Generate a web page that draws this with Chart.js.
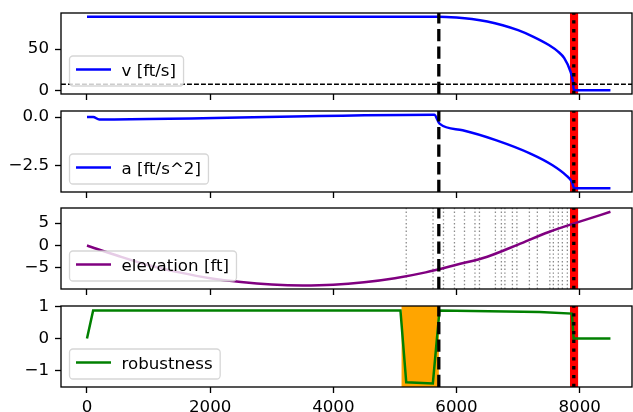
<!DOCTYPE html>
<html>
<head>
<meta charset="utf-8">
<title>Braking run</title>
<script src="https://cdn.jsdelivr.net/npm/chart.js@4.4.1/dist/chart.umd.min.js"></script>
<style>
    body { margin: 0; background: #ffffff; }
    #wrap { position: relative; width: 633px; height: 412px; overflow: hidden; background: #ffffff; }
    #wrap canvas { position: absolute; left: 0; }
</style>
</head>
<body>
<div id="wrap">
    <canvas id="velocityChart"></canvas>
    <canvas id="accelChart"></canvas>
    <canvas id="elevationChart"></canvas>
    <canvas id="robustnessChart"></canvas>
</div>
<script>
// shared x axis: distance [ft]
const X_TICKS = [0, 2000, 4000, 6000, 8000];

// v [ft/s]
const velocityDist = [0, 5713, 6000, 6250, 6500, 6750, 7000, 7250, 7500, 7650, 7750, 7850, 7890, 7905, 8500];
const velocityValues = [89.4, 89.3, 88.3, 86.5, 83.5, 79.0, 73.0, 65.0, 55.0, 47.0, 39.0, 23.0, 11.0, 0.0, 0.0];

// a [ft/s^2]
const accelDist = [0, 100, 200, 5640, 5724, 6100, 6650, 7200, 7560, 7780, 7875, 7913, 8500];
const accelValues = [0, 0, -0.13, 0.12, -0.34, -0.68, -1.2, -1.88, -2.48, -3.0, -3.34, -3.67, -3.67];

// elevation [ft]
const elevationDist = [0, 500, 1000, 1500, 2000, 2500, 3000, 3500, 4000, 4500, 5000, 5500, 6000, 6500, 7000, 7500, 8000, 8500];
const elevationValues = [0, -2.3, -4.4, -6.0, -7.3, -8.15, -8.7, -8.9, -8.75, -8.2, -7.3, -6.0, -4.3, -2.5, 0.2, 3.0, 5.3, 7.5];

// robustness
const robustnessDist = [0, 100, 5090, 5184, 5616, 5724, 7346, 7875, 7902, 8500];
const robustnessValues = [0, 0.88, 0.88, -1.38, -1.42, 0.88, 0.83, 0.78, 0, 0];

// event markers
const brakeStartX = [5713];                 // black dashed, all panels
const stopSpan = [7843, 7975];              // red band, all panels
const stopX = [7905];                       // black dotted, all panels
const violationSpan = [5108, 5713];         // orange band, robustness only
const gradeChangeX = [5184, 5619, 5789, 5967, 6130, 6300, 6373, 6632, 6729, 6786,
                      6908, 6981, 7184, 7313, 7516, 7573, 7654, 7719, 7800];
const speedLimitY = [7.33];                 // black dashed, velocity only

const FONT = { family: 'DejaVu Sans', size: 16.67 };
const PANEL_H = 81;
const PAD_TOP = 18;   // room for the y tick label overhang

function minusSign(v) {
    return String(v).replace('-', '\u2212');
}

function toPoints(xs, ys) {
    return xs.map((x, i) => ({ x: x, y: ys[i] }));
}

function vLine(chart, value, color, width, dash) {
    const ctx = chart.ctx;
    const area = chart.chartArea;
    const px = chart.scales.x.getPixelForValue(value);
    ctx.save();
    ctx.beginPath();
    ctx.rect(area.left, area.top, area.right - area.left, area.bottom - area.top);
    ctx.clip();
    ctx.beginPath();
    ctx.strokeStyle = color;
    ctx.lineWidth = width;
    ctx.setLineDash(dash);
    ctx.moveTo(px, area.bottom);
    ctx.lineTo(px, area.top);
    ctx.stroke();
    ctx.restore();
}

function vSpan(chart, span, color) {
    const ctx = chart.ctx;
    const area = chart.chartArea;
    const x0 = chart.scales.x.getPixelForValue(span[0]);
    const x1 = chart.scales.x.getPixelForValue(span[1]);
    ctx.save();
    ctx.fillStyle = color;
    ctx.fillRect(x0, area.top, x1 - x0, area.bottom - area.top);
    ctx.restore();
}

function drawLegend(chart, label, color) {
    const ctx = chart.ctx;
    const area = chart.chartArea;
    ctx.save();
    ctx.font = FONT.size + 'px "DejaVu Sans"';
    const textW = ctx.measureText(label).width;
    const w = 52 + textW + 7.5;
    const h = 30;
    const x = area.left + 8.5;
    const y = area.bottom - 8 - h;
    ctx.beginPath();
    ctx.roundRect(x, y, w, h, 3.5);
    ctx.fillStyle = 'rgba(255,255,255,0.8)';
    ctx.fill();
    ctx.lineWidth = 1.3;
    ctx.strokeStyle = 'rgba(204,204,204,0.8)';
    ctx.stroke();
    // line sample
    ctx.beginPath();
    ctx.strokeStyle = color;
    ctx.lineWidth = 2.5;
    ctx.moveTo(x + 6.5, y + h / 2 - 1.5);
    ctx.lineTo(x + 41.5, y + h / 2 - 1.5);
    ctx.stroke();
    ctx.fillStyle = '#000000';
    ctx.textBaseline = 'middle';
    ctx.fillText(label, x + 52, y + h / 2 + 0.5);
    ctx.restore();
}

function makePanel(id, top, bottomSpace, cfg) {
    const canvas = document.getElementById(id);
    canvas.width = 633;
    canvas.height = PAD_TOP + PANEL_H + bottomSpace;
    canvas.style.top = (top - PAD_TOP) + 'px';

    const markers = {
        id: 'markers_' + id,
        beforeDatasetsDraw(chart) {
            (cfg.spans || []).forEach(s => vSpan(chart, s.range, s.color));
            (cfg.thinDotted || []).forEach(v => vLine(chart, v, '#8a8a8a', 1.3, [1.4, 2.4]));
        },
        afterDatasetsDraw(chart) {
            const area = chart.chartArea;
            const ctx = chart.ctx;
            (cfg.hLines || []).forEach(v => {
                const py = chart.scales.y.getPixelForValue(v);
                ctx.save();
                ctx.beginPath();
                ctx.strokeStyle = '#000000';
                ctx.lineWidth = 1.33;
                ctx.setLineDash([4.9, 2.1]);
                ctx.moveTo(area.left, py);
                ctx.lineTo(area.right, py);
                ctx.stroke();
                ctx.restore();
            });
            brakeStartX.forEach(v => vLine(chart, v, '#000000', 3.3, [12.3, 5.3]));
            stopX.forEach(v => vLine(chart, v, '#000000', 3.3, [3.3, 5.5]));
        },
        afterDraw(chart) {
            const area = chart.chartArea;
            const ctx = chart.ctx;
            ctx.save();
            ctx.strokeStyle = '#000000';
            ctx.lineWidth = 1.33;
            ctx.strokeRect(area.left, area.top, area.right - area.left, area.bottom - area.top);
            ctx.restore();
            drawLegend(chart, cfg.label, cfg.color);
        }
    };

    return new Chart(canvas.getContext('2d'), {
        type: 'line',
        data: {
            datasets: [{
                label: cfg.label,
                data: toPoints(cfg.xs, cfg.ys),
                borderColor: cfg.color,
                borderWidth: 2.5,
                pointRadius: 0,
                fill: false,
                cubicInterpolationMode: cfg.smooth ? 'monotone' : 'default',
                tension: 0
            }]
        },
        options: {
            responsive: false,
            animation: false,
            devicePixelRatio: 1,
            events: [],
            layout: { padding: { top: PAD_TOP, left: 0, right: 1, bottom: 0 } },
            plugins: {
                legend: { display: false },
                tooltip: { enabled: false }
            },
            scales: {
                x: {
                    type: 'linear',
                    min: -422,
                    max: 8850,
                    afterBuildTicks: axis => { axis.ticks = X_TICKS.map(v => ({ value: v })); },
                    afterFit: axis => { axis.height = bottomSpace; },
                    border: { display: false },
                    grid: { drawOnChartArea: false, drawTicks: true, tickLength: 6, tickWidth: 1.33, tickColor: '#000000' },
                    ticks: {
                        display: cfg.showX,
                        padding: 5,
                        maxRotation: 0,
                        color: '#000000',
                        font: FONT,
                        callback: v => minusSign(v)
                    }
                },
                y: {
                    type: 'linear',
                    min: cfg.yMin,
                    max: cfg.yMax,
                    afterBuildTicks: axis => { axis.ticks = cfg.yTicks.map(v => ({ value: v })); },
                    afterFit: axis => { axis.width = 61; },
                    border: { display: false },
                    grid: { drawOnChartArea: false, drawTicks: true, tickLength: 6, tickWidth: 1.33, tickColor: '#000000' },
                    ticks: {
                        padding: 6,
                        color: '#000000',
                        font: FONT,
                        callback: cfg.fmt
                    }
                }
            }
        },
        plugins: [markers]
    });
}

const redBand = { range: stopSpan, color: '#ff0000' };

const velocityChartInstance = makePanel('velocityChart', 13, 18, {
    label: 'v [ft/s]', color: '#0000ff', xs: velocityDist, ys: velocityValues, smooth: true,
    yMin: -4.47, yMax: 93.87, yTicks: [0, 50], fmt: v => minusSign(v),
    spans: [redBand], hLines: speedLimitY, showX: false
});

const accelChartInstance = makePanel('accelChart', 111, 18, {
    label: 'a [ft/s^2]', color: '#0000ff', xs: accelDist, ys: accelValues, smooth: true,
    yMin: -3.86, yMax: 0.31, yTicks: [-2.5, 0], fmt: v => minusSign(Number(v).toFixed(1)),
    spans: [redBand], showX: false
});

const elevationChartInstance = makePanel('elevationChart', 208, 18, {
    label: 'elevation [ft]', color: '#800080', xs: elevationDist, ys: elevationValues, smooth: true,
    yMin: -9.7, yMax: 8.35, yTicks: [-5, 0, 5], fmt: v => minusSign(v),
    spans: [redBand], thinDotted: gradeChangeX, showX: false
});

const robustnessChartInstance = makePanel('robustnessChart', 306, 25, {
    label: 'robustness', color: '#008000', xs: robustnessDist, ys: robustnessValues, smooth: false,
    yMin: -1.53, yMax: 1.02, yTicks: [-1, 0, 1], fmt: v => minusSign(v),
    spans: [{ range: violationSpan, color: '#ffa500' }, redBand], showX: true
});
</script>
</body>
</html>
